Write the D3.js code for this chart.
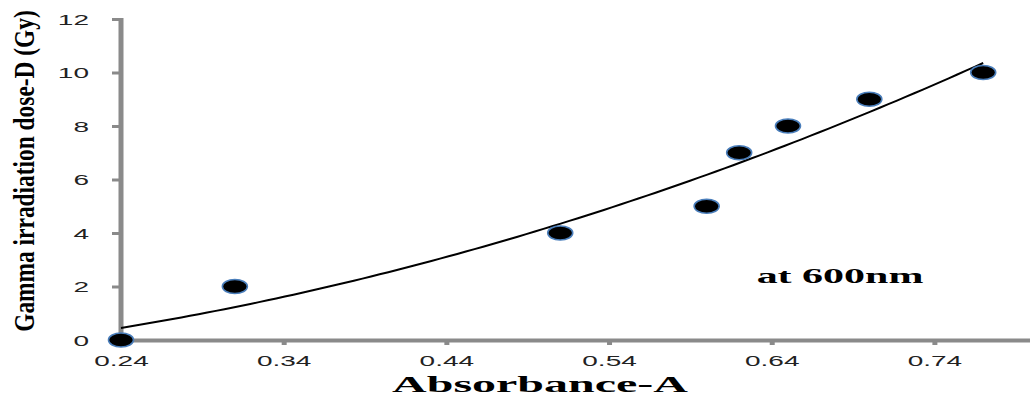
<!DOCTYPE html>
<html>
<head>
<meta charset="utf-8">
<script src="https://cdn.jsdelivr.net/npm/d3@7"></script>
<style>
  html, body { margin: 0; padding: 0; background: #fff; }
  svg { display: block; }
</style>
</head>
<body>
<svg id="chart" width="1030" height="401"></svg>
<script>
// Absorbance readings and the gamma doses they correspond to
const absorbance = [0.24, 0.31, 0.51, 0.60, 0.62, 0.65, 0.70, 0.77];
const dose = [0, 2, 4, 5, 7, 8, 9, 10];
const xTicks = [0.24, 0.34, 0.44, 0.54, 0.64, 0.74];
const yTicks = [0, 2, 4, 6, 8, 10, 12];

const svg = d3.select("#chart");
const axisColor = "#8a8a8a";
const stretch = 2; // wide text proportions used throughout the figure

const x = d3.scaleLinear().domain([0.24, 0.80]).range([121, 1032]);
const y = d3.scaleLinear().domain([0, 12]).range([340, 19]);

// Second-order polynomial trendline (least squares) through the readings
function polyFit2(xs, ys) {
  let s = [0, 0, 0, 0, 0], t = [0, 0, 0];
  xs.forEach((xv, i) => {
    for (let k = 0; k < 5; k++) s[k] += Math.pow(xv, k);
    for (let k = 0; k < 3; k++) t[k] += ys[i] * Math.pow(xv, k);
  });
  const M = [[s[0], s[1], s[2], t[0]], [s[1], s[2], s[3], t[1]], [s[2], s[3], s[4], t[2]]];
  for (let c = 0; c < 3; c++) {
    for (let r = c + 1; r < 3; r++) {
      const f = M[r][c] / M[c][c];
      for (let k = c; k < 4; k++) M[r][k] -= f * M[c][k];
    }
  }
  const b = [0, 0, 0];
  for (let r = 2; r >= 0; r--) {
    let v = M[r][3];
    for (let k = r + 1; k < 3; k++) v -= M[r][k] * b[k];
    b[r] = v / M[r][r];
  }
  return b;
}
const coef = polyFit2(absorbance, dose);
const trend = a => coef[0] + coef[1] * a + coef[2] * a * a;
const [aMin, aMax] = d3.extent(absorbance);
const trendPts = d3.range(0, 101).map(i => aMin + (aMax - aMin) * i / 100);

// Axes
const yAxis = svg.append("g")
  .attr("transform", `translate(${x(0.24)},0)`)
  .call(d3.axisLeft(y).tickValues(yTicks).tickSize(9).tickSizeOuter(0).tickFormat(d3.format("d")));
yAxis.select(".domain").attr("stroke", axisColor).attr("stroke-width", 5)
  .attr("d", `M0,${y(0)}V${y(12) - 1}`);
yAxis.selectAll(".tick line").attr("stroke", axisColor).attr("stroke-width", 3);
yAxis.selectAll(".tick text")
  .attr("x", -16).attr("dy", "0.36em")
  .attr("transform", `scale(${stretch},1)`)
  .attr("fill", "#222")
  .style("font-family", "'Liberation Sans', Arial, sans-serif")
  .style("font-size", "14px");

const xAxis = svg.append("g")
  .attr("transform", `translate(0,${y(0)})`)
  .call(d3.axisBottom(x).tickValues(xTicks).tickSize(5).tickSizeOuter(0).tickFormat(d3.format(".2f")));
xAxis.select(".domain").attr("stroke", axisColor).attr("stroke-width", 4);
xAxis.selectAll(".tick line").attr("stroke", axisColor).attr("stroke-width", 5);
xAxis.selectAll(".tick").filter(d => d === 0.24).select("line").remove();
xAxis.selectAll(".tick text")
  .attr("y", 21).attr("dy", "0.36em")
  .attr("transform", `scale(${stretch},1)`)
  .attr("fill", "#222")
  .style("font-family", "'Liberation Sans', Arial, sans-serif")
  .style("font-size", "14px");
yAxis.raise();

// Trendline
svg.append("path")
  .datum(trendPts)
  .attr("fill", "none")
  .attr("stroke", "#000")
  .attr("stroke-width", 2)
  .attr("d", d3.line().x(a => x(a)).y(a => y(trend(a))));

// Data markers
svg.append("g").selectAll("ellipse")
  .data(absorbance.map((a, i) => ({ a, d: dose[i] })))
  .join("ellipse")
  .attr("cx", p => x(p.a))
  .attr("cy", p => y(p.d))
  .attr("rx", 12.5)
  .attr("ry", 7)
  .attr("fill", "#000")
  .attr("stroke", "#4a7ebb")
  .attr("stroke-width", 1.6);

// Axis titles and annotation
svg.append("text")
  .attr("transform", `translate(540,392) scale(${stretch},1)`)
  .attr("text-anchor", "middle")
  .style("font-family", "'Liberation Serif', 'Times New Roman', serif")
  .style("font-weight", "bold")
  .style("font-size", "24px")
  .text("Absorbance-A");

svg.append("text")
  .attr("transform", `translate(840,283) scale(${stretch},1)`)
  .attr("text-anchor", "middle")
  .style("font-family", "'Liberation Serif', 'Times New Roman', serif")
  .style("font-weight", "bold")
  .style("font-size", "21px")
  .text("at 600nm");

// Vertical title: narrow, tall glyphs
svg.append("text")
  .attr("transform", "translate(34,171) rotate(-90) scale(1,1.28)")
  .attr("text-anchor", "middle")
  .style("font-family", "'Liberation Serif', 'Times New Roman', serif")
  .style("font-weight", "bold")
  .style("font-size", "23.4px")
  .text("Gamma irradiation dose-D (Gy)");
</script>
</body>
</html>
